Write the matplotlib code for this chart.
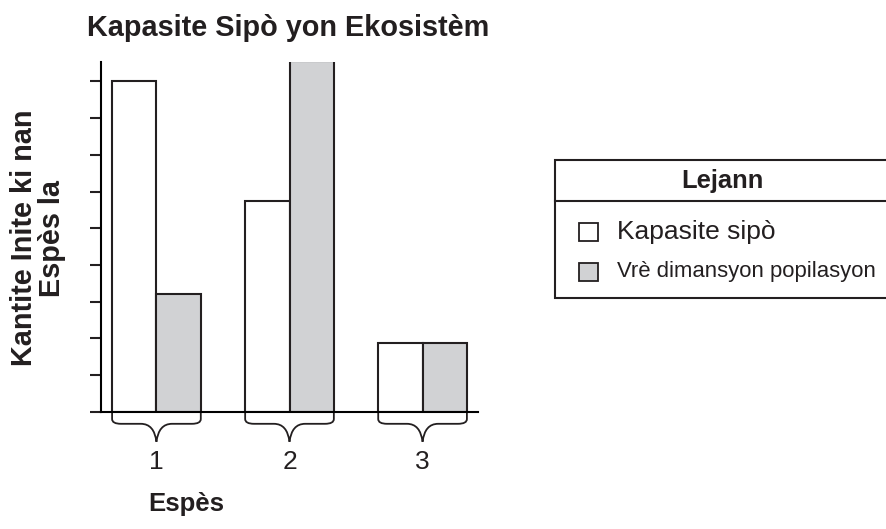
import matplotlib
matplotlib.use("Agg")
import matplotlib.pyplot as plt
from matplotlib.patches import Rectangle, PathPatch
from matplotlib.path import Path

plt.rcParams["font.family"] = ["Liberation Sans", "DejaVu Sans"]

# Data
species = ["1", "2", "3"]
carrying_capacity = [9.0, 5.73, 1.87]
population_size = [3.2, 9.56, 1.87]
legend_labels = ["Kapasite sipò", "Vrè dimansyon popilasyon"]
gray = "#d1d2d4"
ink = "#231f20"

fig = plt.figure(figsize=(8.86, 5.29), dpi=100)
ax = fig.add_axes([101 / 886, 1 - 411.7 / 529, (478 - 101) / 886, (411.7 - 62) / 529])

centers = [3 * (i + 1) for i in range(len(species))]
ax.bar([c - 0.5 for c in centers], carrying_capacity, width=1.0,
       color="white", edgecolor=ink, linewidth=1.5)
ax.bar([c + 0.5 for c in centers], population_size, width=1.0,
       color=gray, edgecolor=ink, linewidth=1.5)

ax.set_xlim(1.75, 10.25)
ax.set_ylim(0, 9.53)
ax.spines["top"].set_visible(False)
ax.spines["right"].set_visible(False)
ax.spines["left"].set_linewidth(1.5)
ax.spines["bottom"].set_linewidth(1.5)
ax.set_yticks(range(0, 10))
ax.set_yticklabels([])
ax.tick_params(axis="y", length=8, width=1.5, color=ink)
ax.set_xticks([])

# Braces under each group
for c, lab in zip(centers, species):
    x0, x1 = c - 1, c + 1
    h = -0.33
    verts = [(x0, 0), (x0, -0.2), (x0, h), (x0 + 0.2, h),
             (c - 0.35, h), (c - 0.05, h), (c, -0.82),
             (c + 0.05, h), (c + 0.35, h),
             (x1 - 0.2, h), (x1, h), (x1, -0.2), (x1, 0)]
    codes = [Path.MOVETO, Path.LINETO, Path.CURVE3, Path.CURVE3,
             Path.LINETO, Path.CURVE3, Path.CURVE3,
             Path.CURVE3, Path.CURVE3,
             Path.LINETO, Path.CURVE3, Path.CURVE3, Path.LINETO]
    ax.add_patch(PathPatch(Path(verts, codes), facecolor="none",
                           edgecolor=ink, linewidth=1.3, clip_on=False))
    ax.text(c, -1.38, lab, ha="center", va="center", fontsize=19, color=ink)

fig.text(87 / 886, 1 - 28 / 529, "Kapasite Sipò yon Ekosistèm", fontsize=20.8,
         fontweight="bold", ha="left", va="center", color=ink)
fig.text(186 / 886, 1 - 504 / 529, "Espès", fontsize=18.5, fontweight="bold",
         ha="center", va="center", color=ink)
fig.text(38 / 886, 1 - 238 / 529, "Kantite Inite ki nan\nEspès la", fontsize=20.8,
         fontweight="bold", rotation=90, ha="center", va="center",
         linespacing=1.0, color=ink)

# Legend box
lx0, lx1 = 555, 900
ly_top, ly_mid, ly_bot = 160, 200.7, 298
fig.add_artist(Rectangle((lx0 / 886, 1 - ly_bot / 529), (lx1 - lx0) / 886,
                         (ly_bot - ly_top) / 529, transform=fig.transFigure,
                         facecolor="white", edgecolor=ink, linewidth=1.5,
                         clip_on=False))
fig.add_artist(plt.Line2D([lx0 / 886, 1], [1 - ly_mid / 529] * 2,
                          transform=fig.transFigure, color=ink, linewidth=1.5))
fig.text(722 / 886, 1 - 181 / 529, "Lejann", fontsize=18.4, fontweight="bold",
         ha="center", va="center", color=ink)
sizes = [19, 15.9]
for yc, fc, lab, fs in zip([232, 272], ["white", gray], legend_labels, sizes):
    fig.add_artist(Rectangle((579 / 886, 1 - (yc + 9) / 529), 19 / 886, 18 / 529,
                             transform=fig.transFigure, facecolor=fc,
                             edgecolor=ink, linewidth=1.3))
    fig.text(617 / 886, 1 - yc / 529, lab, fontsize=fs, ha="left", va="center",
             color=ink)

fig.savefig("out.png", dpi=100)
